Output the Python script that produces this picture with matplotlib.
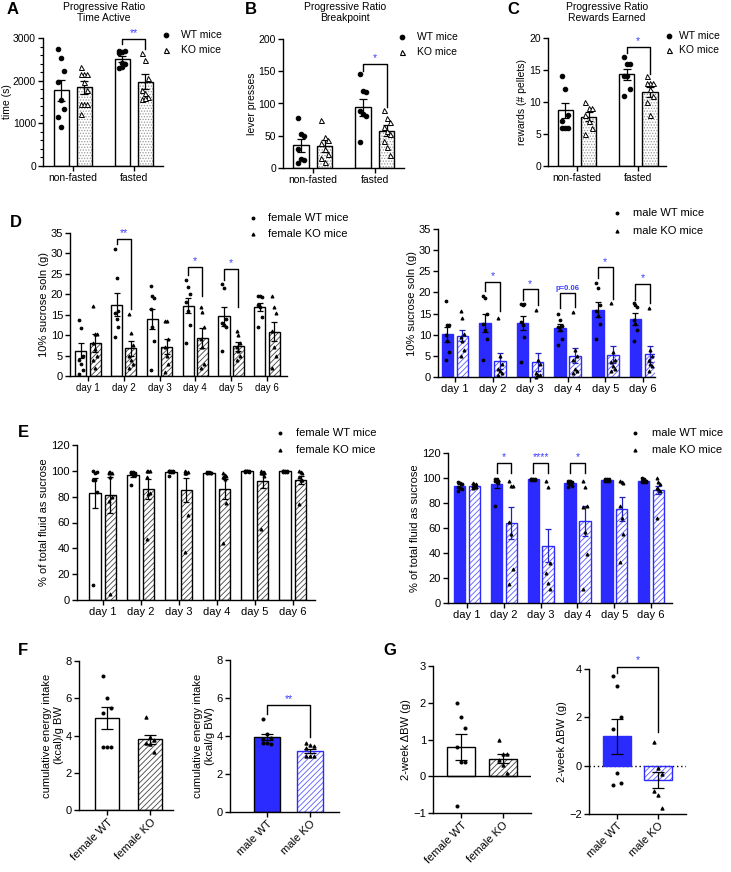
import numpy as np
import matplotlib
matplotlib.use("Agg")
import matplotlib.pyplot as plt
from matplotlib.lines import Line2D
from matplotlib.ticker import MultipleLocator

plt.rcParams["font.family"] = ["Liberation Sans", "DejaVu Sans"]
plt.rcParams["font.size"] = 7.5
plt.rcParams["hatch.linewidth"] = 0.6

# ---------------- data ----------------
pr_groups = ["non-fasted", "fasted"]
days = ["day 1", "day 2", "day 3", "day 4", "day 5", "day 6"]

# A: progressive ratio time active (s)
a_wt_mean = [1780, 2500]
a_wt_sem = [245, 70]
a_ko_mean = [1840, 1980]
a_ko_sem = [150, 165]
a_wt_pts = [[2750, 2520, 2220, 1960, 1550, 1340, 1150, 910],
            [2700, 2680, 2700, 2650, 2420, 2380, 2300, 2310]]
a_ko_pts = [[2330, 2150, 2150, 2150, 1980, 1780, 1450, 1450, 1450, 1230],
            [2650, 2480, 2060, 1790, 1700, 1620, 1560, 1600]]

# B: breakpoint (lever presses)
b_wt_mean = [35, 94]
b_wt_sem = [10, 13]
b_ko_mean = [34, 58]
b_ko_sem = [9, 8]
b_wt_pts = [[77, 52, 50, 30, 14, 12, 8], [145, 120, 118, 88, 83, 80, 40]]
b_ko_pts = [[75, 48, 44, 38, 30, 22, 15, 10], [90, 78, 72, 64, 58, 52, 42, 32, 20]]

# C: rewards earned (# pellets)
c_wt_mean = [8.7, 14.3]
c_wt_sem = [1.2, 0.9]
c_ko_mean = [7.7, 11.6]
c_ko_sem = [0.7, 0.8]
c_wt_pts = [[14, 12, 8, 7, 6, 6, 6], [17, 16, 16, 14, 14, 12, 11]]
c_ko_pts = [[10, 9, 9, 8, 7, 6, 5], [14, 13, 13, 13, 12, 11, 10, 8]]

# D: 10% sucrose soln (g), female / male
d_f_wt_mean = [6.2, 17.4, 14.0, 17.2, 14.6, 16.8]
d_f_wt_sem = [1.8, 2.8, 2.4, 1.9, 2.3, 1.0]
d_f_ko_mean = [8.0, 6.8, 7.2, 9.3, 7.3, 10.8]
d_f_ko_sem = [2.2, 1.8, 1.9, 2.4, 1.1, 2.3]
d_f_wt_pts = [[13.6, 11.8, 5, 4, 3, 1.5, 0.5], [31, 24, 16, 15.5, 14, 12, 9.5],
              [22, 19.5, 19, 16.5, 12, 8.5, 1.5], [23.5, 21.8, 20, 18, 16, 12.5, 8],
              [22.5, 21.5, 14, 13, 12.5, 12, 6], [19.6, 19.5, 19.4, 17.5, 17, 14.5, 12]]
d_f_ko_pts = [[17.2, 10.3, 10.3, 8, 6.5, 5, 4, 2], [15.2, 10.5, 7.5, 5, 4, 3, 2],
              [13.5, 13.5, 9, 7, 5, 3, 1], [17, 15.7, 12, 9, 7, 3, 2],
              [11, 10, 8, 7, 6, 5, 4], [19.5, 17, 15.5, 11, 7, 5, 2]]

d_m_wt_mean = [10.1, 12.8, 12.8, 11.7, 15.9, 13.8]
d_m_wt_sem = [1.8, 2.1, 1.7, 0.9, 1.8, 1.4]
d_m_ko_mean = [9.8, 3.8, 3.5, 5.0, 5.3, 5.5]
d_m_ko_sem = [1.4, 1.8, 2.1, 1.8, 2.1, 1.9]
d_m_wt_pts = [[18, 12.3, 12.2, 10, 8.5, 6, 4], [19.2, 18.8, 15, 12.5, 11, 9, 4],
              [17.3, 17, 17.3, 13, 12.3, 9.5, 3.5], [15, 13.5, 12, 11.8, 11, 9, 7.5],
              [22.2, 21, 17, 15.5, 14.5, 12.5, 9], [17.4, 17.1, 16.5, 13.5, 12.5, 11, 8.5]]
d_m_ko_pts = [[15.5, 14, 10.2, 9.5, 8.5, 6.5, 5], [14, 5, 3, 2, 1.5, 1, 0.5],
              [15.8, 4, 3, 1, 0.5, 0.5, 0], [15.3, 6.5, 5, 4, 2, 1.5, 1],
              [17.4, 6, 4, 3.5, 2.5, 2, 1.5], [16.3, 6.5, 5, 4, 3, 2.5, 1.5]]

# E: % of total fluid as sucrose, female / male
e_f_wt_mean = [83, 97, 99, 98.5, 99.5, 99.5]
e_f_wt_sem = [11.5, 1.5, 0.8, 0.5, 0.3, 0.3]
e_f_ko_mean = [81.5, 86, 85, 86, 92, 93]
e_f_ko_sem = [14, 7.5, 9.5, 8, 5.5, 3]
e_f_wt_pts = [[99.5, 98, 99, 93, 93, 84, 12], [99, 99, 98, 98, 97, 97, 89],
              [99.5, 99.5, 99.5, 99.5, 99, 99, 96], [99, 99, 98.5, 98.5, 98, 98, 98.5],
              [100, 100, 99.5, 99.5, 99.5, 99, 99], [100, 99.5, 99.5, 99.5, 99, 99, 99]]
e_f_ko_pts = [[99, 99, 98, 98, 95, 80, 77, 5], [100, 100, 100, 95, 82, 83, 47],
              [100, 99, 99, 98, 98, 66, 37], [98, 97, 96, 95, 94, 75, 44],
              [100, 99, 99, 98, 98, 96, 55], [100, 99, 98, 95, 93, 93, 74]]

e_m_wt_mean = [93.5, 95, 99, 96, 98.5, 98]
e_m_wt_sem = [1.5, 3, 0.3, 1, 0.3, 0.7]
e_m_ko_mean = [94, 64, 46, 66, 75, 90.5]
e_m_ko_sem = [1, 12.5, 13.5, 12, 9.5, 3.5]
e_m_wt_pts = [[97, 96, 95, 93, 92, 91, 90], [99, 99, 98, 98, 97, 96, 78],
              [99.5, 99, 99, 99, 98.5, 98.5, 98.5], [98, 98, 97, 96, 95, 94, 93],
              [99, 99, 99, 98.5, 98, 98, 98], [100, 99, 98, 98, 97, 97, 97]]
e_m_ko_pts = [[96, 95, 95, 94, 93, 93, 92], [98, 94, 94, 65, 55, 27, 15],
              [98, 93, 32, 24, 16, 11], [98, 93, 78, 77, 57, 39, 11],
              [98, 97, 96, 78, 68, 55, 33], [100, 97, 95, 92, 91, 90, 68]]

# F: cumulative energy intake
f_f_labels = ["female WT", "female KO"]
f_f_mean = [4.95, 3.8]
f_f_sem = [0.58, 0.25]
f_f_pts = [[7.2, 6.0, 5.5, 5.2, 3.4, 3.4, 3.4], [5.0, 3.9, 3.75, 3.6, 3.55, 3.1]]
f_m_labels = ["male WT", "male KO"]
f_m_mean = [3.95, 3.22]
f_m_sem = [0.15, 0.12]
f_m_pts = [[4.9, 4.1, 3.9, 3.85, 3.65, 3.6, 3.65], [3.65, 3.55, 3.5, 3.35, 2.95, 2.95, 2.95]]

# G: 2-week body weight change
g_f_mean = [0.8, 0.48]
g_f_sem = [0.36, 0.12]
g_f_pts = [[2.0, 1.6, 1.3, 0.8, 0.4, 0.4, -0.8], [1.0, 0.6, 0.6, 0.45, 0.3, 0.1]]
g_m_mean = [1.22, -0.6]
g_m_sem = [0.72, 0.33]
g_m_pts = [[3.7, 3.3, 2.0, 1.5, -0.3, -0.7, -0.8], [1.0, -0.1, -0.35, -1.05, -1.2, -1.75]]

# ---------------- styling ----------------
BLUE = "#2b2bff"
STAR = "#3d3dff"
W, H = 731, 872

fig = plt.figure(figsize=(W / 100, H / 100), dpi=100)


def px_axes(x0, ytop, x1, ybot):
    return fig.add_axes([x0 / W, 1 - ybot / H, (x1 - x0) / W, (ybot - ytop) / H])


def style_ax(ax, ylim, yticks, xlim, xticks, xlabels, ylabel, fs=7.5, xfs=None,
             ylfs=7.5, pad=1.5):
    ax.spines[["top", "right"]].set_visible(False)
    for s in ["left", "bottom"]:
        ax.spines[s].set_linewidth(1)
    ax.set_ylim(*ylim)
    ax.set_yticks(yticks)
    ax.set_xlim(*xlim)
    ax.set_xticks(xticks)
    ax.set_xticklabels(xlabels)
    ax.tick_params(length=3.5, width=1, labelsize=fs, pad=1.5)
    if xfs:
        ax.tick_params(axis="x", labelsize=xfs)
    ax.set_ylabel(ylabel, fontsize=ylfs, labelpad=pad)


def bars(ax, xs, means, sems, fc, ec, hatch=None, hc=None, width=0.3,
         ecol="black", elw=0.9, cap=2.5, lw=1.0):
    if hatch:
        ax.bar(xs, means, width, color="white", edgecolor=hc, hatch=hatch,
               linewidth=0, zorder=1)
        ax.bar(xs, means, width, facecolor="none", edgecolor=ec, linewidth=lw, zorder=2)
    else:
        ax.bar(xs, means, width, facecolor=fc, edgecolor=ec, linewidth=lw, zorder=2)
    ax.errorbar(xs, means, yerr=sems, fmt="none", ecolor=ecol, elinewidth=elw,
                capsize=cap, capthick=elw, zorder=3)


def points(ax, x, vals, marker, ms, mfc="black", w=0.05):
    vals = np.asarray(vals, dtype=float)
    offs = ((np.arange(len(vals)) % 3) - 1) * w
    ax.plot(x + offs, vals, ls="none", marker=marker, ms=ms, mfc=mfc, mec="black",
            mew=0.7, zorder=4, clip_on=False)


def bracket(ax, x1, x2, top, lb, rb, label, fs=7.5, weight="normal", dy=0.0):
    ax.plot([x1, x1, x2, x2], [lb, top, top, rb], color="black", lw=1,
            clip_on=False, zorder=5)
    ax.text((x1 + x2) / 2, top + dy, label, color=STAR, ha="center", va="bottom",
            fontsize=fs, fontweight=weight)


def legend_row(xm, xt, y, marker, ms, mfc, label, fs=7.5):
    fig.add_artist(Line2D([xm / W], [1 - y / H], marker=marker, ms=ms, mfc=mfc,
                          mec="black", mew=0.8, ls="none", transform=fig.transFigure))
    fig.text(xt / W, 1 - y / H, label, ha="left", va="center", fontsize=fs)


def letter(x, y, s):
    fig.text(x / W, 1 - y / H, s, ha="left", va="top", fontsize=12, fontweight="heavy")


# ---------------- A / B / C ----------------
pr_x = np.arange(2)
off = 0.19
bw = 0.25


def pr_panel(ax, wt_m, wt_s, ko_m, ko_s, wt_p, ko_p, w):
    bars(ax, pr_x - off, wt_m, wt_s, "white", "black", width=bw, cap=3)
    bars(ax, pr_x + off, ko_m, ko_s, "white", "black", hatch="......", hc="#9a9a9a",
         width=bw, cap=3)
    for i in range(2):
        points(ax, pr_x[i] - off, wt_p[i], "o", 3.3, w=w)
        points(ax, pr_x[i] + off, ko_p[i], "^", 3.6, mfc="white", w=w)


axA = px_axes(43, 38, 163, 166)
pr_panel(axA, a_wt_mean, a_wt_sem, a_ko_mean, a_ko_sem, a_wt_pts, a_ko_pts, 0.05)
style_ax(axA, (0, 3000), [0, 1000, 2000, 3000], (-0.49, 1.48), pr_x, pr_groups, "time (s)",
         pad=1)
axA.yaxis.set_minor_locator(MultipleLocator(200))
axA.tick_params(which="minor", length=2, width=0.8)
bracket(axA, 1 - off, 1 + off, 2970, 2860, 2750, "**", dy=20)

axB = px_axes(283, 39, 404, 168)
pr_panel(axB, b_wt_mean, b_wt_sem, b_ko_mean, b_ko_sem, b_wt_pts, b_ko_pts, 0.05)
style_ax(axB, (0, 200), [0, 50, 100, 150, 200], (-0.48, 1.47), pr_x, pr_groups, "lever presses")
bracket(axB, 1 - off, 1 + off, 161, 151, 95, "*", dy=2)

axC = px_axes(548, 38, 666, 166)
pr_panel(axC, c_wt_mean, c_wt_sem, c_ko_mean, c_ko_sem, c_wt_pts, c_ko_pts, 0.05)
style_ax(axC, (0, 20), [0, 5, 10, 15, 20], (-0.47, 1.45), pr_x, pr_groups, "rewards (# pellets)")
bracket(axC, 1 - off, 1 + off, 18.6, 17.6, 14.4, "*", dy=0.2)

fig.text(104 / W, 1 - 2 / H, "Progressive Ratio\nTime Active", ha="center", va="top",
         fontsize=7.5, linespacing=1.15)
fig.text(345 / W, 1 - 2 / H, "Progressive Ratio\nBreakpoint", ha="center", va="top",
         fontsize=7.5, linespacing=1.15)
fig.text(607 / W, 1 - 2 / H, "Progressive Ratio\nRewards Earned", ha="center", va="top",
         fontsize=7.5, linespacing=1.15)

legend_row(166, 181, 35, "o", 3.3, "black", "WT mice")
legend_row(166, 181, 50, "^", 3.6, "white", "KO mice")
legend_row(402, 417, 37, "o", 3.3, "black", "WT mice")
legend_row(402, 417, 52, "^", 3.6, "white", "KO mice")
legend_row(669, 679, 36, "o", 3.3, "black", "WT mice")
legend_row(669, 679, 50, "^", 3.6, "white", "KO mice")

# ---------------- D / E ----------------
day_x = np.arange(6)
doff = 0.2
dbw = 0.31


def day_panel(ax, wt_m, wt_s, ko_m, ko_s, wt_p, ko_p, male):
    if male:
        bars(ax, day_x - doff, wt_m, wt_s, BLUE, BLUE, width=dbw, cap=2.2)
        bars(ax, day_x + doff, ko_m, ko_s, "white", BLUE, hatch="//////", hc="#5a5aff",
             width=dbw, ecol="#2020c0", cap=2.2)
    else:
        bars(ax, day_x - doff, wt_m, wt_s, "white", "black", width=dbw, cap=2.2)
        bars(ax, day_x + doff, ko_m, ko_s, "white", "black", hatch="//////", hc="#444444",
             width=dbw, cap=2.2)
    for i in range(6):
        points(ax, day_x[i] - doff, wt_p[i], "o", 2.0, w=0.05)
        points(ax, day_x[i] + doff, ko_p[i], "^", 2.2, w=0.05)


axDf = px_axes(70, 233, 287, 376)
day_panel(axDf, d_f_wt_mean, d_f_wt_sem, d_f_ko_mean, d_f_ko_sem, d_f_wt_pts, d_f_ko_pts, False)
style_ax(axDf, (0, 35), range(0, 36, 5), (-0.5, 5.56), day_x, days, "10% sucrose soln (g)",
         fs=8, xfs=7, ylfs=8)
bracket(axDf, 1 - doff, 1 + doff, 33.5, 32.3, 16.5, "**", dy=0.2)
bracket(axDf, 3 - doff, 3 + doff, 26.7, 24.8, 19.5, "*", dy=0.2)
bracket(axDf, 4 - doff, 4 + doff, 26.1, 23.6, 17.0, "*", dy=0.2)
legend_row(253, 268, 218, "o", 2.0, "black", "female WT mice", fs=8)
legend_row(253, 268, 234, "^", 2.2, "black", "female KO mice", fs=8)

axDm = px_axes(438, 229, 655, 377)
day_panel(axDm, d_m_wt_mean, d_m_wt_sem, d_m_ko_mean, d_m_ko_sem, d_m_wt_pts, d_m_ko_pts, True)
style_ax(axDm, (0, 35), range(0, 36, 5), (-0.45, 5.32), day_x, days, "10% sucrose soln (g)",
         fs=8, ylfs=8)
bracket(axDm, 1 - doff, 1 + doff, 22.4, 20.3, 15.5, "*", dy=0.2)
bracket(axDm, 2 - doff, 2 + doff, 20.7, 18.3, 17.0, "*", dy=0.2)
bracket(axDm, 3 - doff, 3 + doff, 19.9, 16.3, 16.5, "p=0.06", fs=5.5, weight="bold", dy=0.3)
bracket(axDm, 4 - doff, 4 + doff, 25.9, 23.3, 18.5, "*", dy=0.2)
bracket(axDm, 5 - doff, 5 + doff, 21.9, 18.3, 17.5, "*", dy=0.2)
legend_row(617, 633, 213, "o", 2.0, "black", "male WT mice", fs=8)
legend_row(617, 633, 231, "^", 2.2, "black", "male KO mice", fs=8)

axEf = px_axes(77, 445, 315, 600)
day_panel(axEf, e_f_wt_mean, e_f_wt_sem, e_f_ko_mean, e_f_ko_sem, e_f_wt_pts, e_f_ko_pts, False)
style_ax(axEf, (0, 120), range(0, 121, 20), (-0.68, 5.58), day_x, days,
         "% of total fluid as sucrose", fs=8, ylfs=8)
legend_row(280, 296, 433, "o", 2.0, "black", "female WT mice", fs=8)
legend_row(280, 296, 450, "^", 2.2, "black", "female KO mice", fs=8)

axEm = px_axes(448, 453, 672, 603)
day_panel(axEm, e_m_wt_mean, e_m_wt_sem, e_m_ko_mean, e_m_ko_sem, e_m_wt_pts, e_m_ko_pts, True)
style_ax(axEm, (0, 120), range(0, 121, 20), (-0.52, 5.57), day_x, days,
         "% of total fluid as sucrose", fs=8, ylfs=8)
bracket(axEm, 1 - doff, 1 + doff, 112, 104, 104, "*", dy=1)
bracket(axEm, 2 - doff, 2 + doff, 112, 104, 104, "****", dy=1)
bracket(axEm, 3 - doff, 3 + doff, 112, 104, 104, "*", dy=1)
legend_row(635, 652, 433, "o", 2.0, "black", "male WT mice", fs=8)
legend_row(635, 652, 450, "^", 2.2, "black", "male KO mice", fs=8)

# ---------------- F / G ----------------
two_x = np.arange(2)


def two_panel(ax, means, sems, pts, male, width, wt_edge="black"):
    if male:
        bars(ax, [two_x[0]], [means[0]], [sems[0]], BLUE, wt_edge, width=width, cap=4)
        bars(ax, [two_x[1]], [means[1]], [sems[1]], "white", BLUE, hatch="//////",
             hc="#5a5aff", width=width, cap=4)
    else:
        bars(ax, [two_x[0]], [means[0]], [sems[0]], "white", "black", width=width, cap=4)
        bars(ax, [two_x[1]], [means[1]], [sems[1]], "white", "black", hatch="//////",
             hc="#444444", width=width, cap=4)
    points(ax, two_x[0], pts[0], "o", 2.2, w=0.1)
    points(ax, two_x[1], pts[1], "^", 2.4, w=0.1)


def rot_labels(ax):
    for t in ax.get_xticklabels():
        t.set_rotation(45)
        t.set_ha("right")
        t.set_rotation_mode("anchor")


axFf = px_axes(79, 661, 173, 810)
two_panel(axFf, f_f_mean, f_f_sem, f_f_pts, False, 0.55)
style_ax(axFf, (0, 8), [0, 2, 4, 6, 8], (-0.65, 1.53), two_x, f_f_labels,
         "cumulative energy intake\n(kcal)/g BW", fs=8, ylfs=8)
rot_labels(axFf)

axFm = px_axes(230, 660, 339, 812)
two_panel(axFm, f_m_mean, f_m_sem, f_m_pts, True, 0.62)
style_ax(axFm, (0, 8), [0, 2, 4, 6, 8], (-0.86, 1.67), two_x, f_m_labels,
         "cumulative energy intake\n(kcal/g BW)", fs=8, ylfs=8)
rot_labels(axFm)
bracket(axFm, 0, 1, 5.64, 5.15, 3.95, "**", dy=0.05)

axGf = px_axes(433, 666, 531, 813)
two_panel(axGf, g_f_mean, g_f_sem, g_f_pts, False, 0.65)
style_ax(axGf, (-1, 3), [-1, 0, 1, 2, 3], (-0.67, 1.67), two_x, f_f_labels,
         "2-week \u0394BW (g)", fs=8, ylfs=8)
axGf.axhline(0, color="black", lw=1, zorder=2)
rot_labels(axGf)

axGm = px_axes(589, 669, 686, 814)
two_panel(axGm, g_m_mean, g_m_sem, g_m_pts, True, 0.68, wt_edge=BLUE)
style_ax(axGm, (-2, 4), [-2, 0, 2, 4], (-0.68, 1.68), two_x, f_m_labels,
         "2-week \u0394BW (g)", fs=8, ylfs=8)
axGm.axhline(0, color="black", lw=1, ls=(0, (1, 2)), zorder=1)
rot_labels(axGm)
bracket(axGm, 0, 1, 4.1, 3.85, 1.4, "*", dy=0.05)

# panel letters
letter(7, 2, "A")
letter(245, 2, "B")
letter(507, 2, "C")
letter(10, 215, "D")
letter(18, 425, "E")
letter(18, 643, "F")
letter(383, 643, "G")

fig.savefig("out.png", dpi=100)
